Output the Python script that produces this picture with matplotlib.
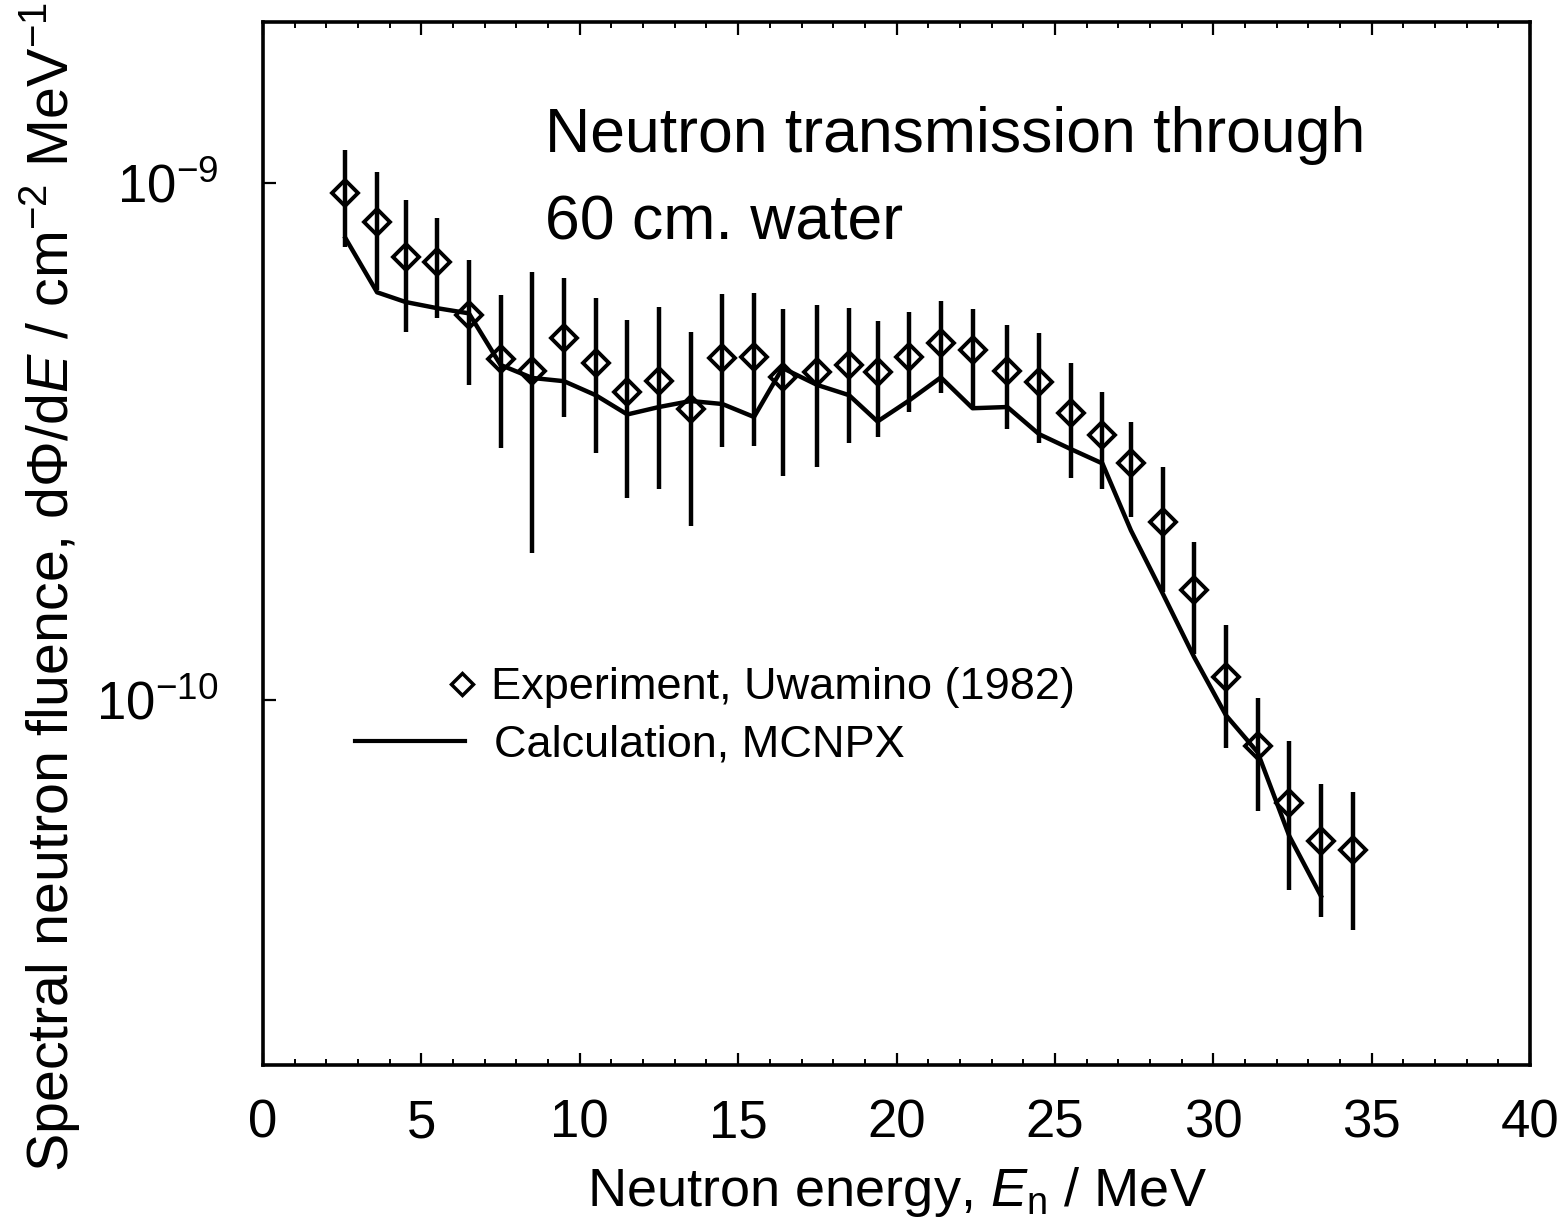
import matplotlib
matplotlib.use("Agg")
import matplotlib.pyplot as plt
from matplotlib.ticker import MultipleLocator, FixedLocator, NullLocator
import numpy as np

plt.rcParams['font.family'] = ['Liberation Sans', 'DejaVu Sans']
plt.rcParams['mathtext.fontset'] = 'custom'
plt.rcParams['mathtext.rm'] = 'Liberation Sans'
plt.rcParams['mathtext.it'] = 'Liberation Sans:italic'
plt.rcParams['mathtext.bf'] = 'Liberation Sans:bold'

# neutron energy (MeV) of the measured bins
energy = [2.6, 3.6, 4.5, 5.5, 6.5, 7.5, 8.5, 9.5, 10.5, 11.5, 12.5,
          13.5, 14.5, 15.5, 16.4, 17.5, 18.5, 19.4, 20.4, 21.4, 22.4,
          23.5, 24.5, 25.5, 26.5, 27.4, 28.4, 29.4, 30.4, 31.4, 32.4,
          33.4, 34.4]

# experiment, Uwamino (1982)
exp_flux = [9.56e-10, 8.41e-10, 7.19e-10, 7.03e-10, 5.56e-10, 4.57e-10,
            4.33e-10, 5.01e-10, 4.49e-10, 3.94e-10, 4.14e-10, 3.65e-10,
            4.59e-10, 4.61e-10, 4.21e-10, 4.31e-10, 4.45e-10, 4.31e-10,
            4.61e-10, 4.90e-10, 4.75e-10, 4.33e-10, 4.12e-10, 3.59e-10,
            3.26e-10, 2.87e-10, 2.21e-10, 1.63e-10, 1.11e-10, 8.15e-11,
            6.32e-11, 5.34e-11, 5.13e-11]

exp_upper = [1.16e-9, 1.05e-9, 9.27e-10, 8.56e-10, 7.10e-10, 6.07e-10,
             6.73e-10, 6.55e-10, 5.99e-10, 5.43e-10, 5.76e-10, 5.15e-10,
             6.10e-10, 6.13e-10, 5.71e-10, 5.81e-10, 5.73e-10, 5.41e-10,
             5.63e-10, 5.91e-10, 5.71e-10, 5.31e-10, 5.13e-10, 4.49e-10,
             3.94e-10, 3.45e-10, 2.82e-10, 2.02e-10, 1.40e-10, 1.01e-10,
             8.33e-11, 6.88e-11, 6.64e-11]

exp_lower = [7.52e-10, 6.21e-10, 5.15e-10, 5.48e-10, 4.07e-10, 3.07e-10,
             1.93e-10, 3.53e-10, 3.00e-10, 2.46e-10, 2.56e-10, 2.17e-10,
             3.09e-10, 3.10e-10, 2.71e-10, 2.82e-10, 3.14e-10, 3.23e-10,
             3.61e-10, 3.93e-10, 3.67e-10, 3.34e-10, 3.14e-10, 2.69e-10,
             2.56e-10, 2.26e-10, 1.62e-10, 1.23e-10, 8.08e-11, 6.10e-11,
             4.29e-11, 3.81e-11, 3.59e-11]

# calculation, MCNPX (stops one bin earlier)
calc_energy = energy[:32]
calc_flux = [7.83e-10, 6.15e-10, 5.89e-10, 5.73e-10, 5.60e-10, 4.45e-10,
             4.20e-10, 4.14e-10, 3.89e-10, 3.57e-10, 3.69e-10, 3.79e-10,
             3.74e-10, 3.53e-10, 4.39e-10, 4.07e-10, 3.89e-10, 3.46e-10,
             3.80e-10, 4.21e-10, 3.67e-10, 3.69e-10, 3.27e-10, 3.06e-10,
             2.87e-10, 2.13e-10, 1.61e-10, 1.21e-10, 9.35e-11, 7.93e-11,
             5.46e-11, 4.18e-11]

y_ticks = [1e-10, 1e-9]


def plot_transmission():
    fig = plt.figure(figsize=(15.63, 12.21), dpi=100)
    ax = fig.add_axes([0.1683, 0.1278, 0.8106, 0.8542])

    flux = np.array(exp_flux)
    yerr = [flux - np.array(exp_lower), np.array(exp_upper) - flux]

    ax.errorbar(energy, exp_flux, yerr=yerr,
                fmt='D', ms=13.5, mfc='none', mec='black', mew=2.8,
                ecolor='black', elinewidth=3.2, capsize=0,
                color='black', zorder=3)
    ax.plot(calc_energy, calc_flux, color='black', lw=3.2, zorder=2)

    ax.set_yscale('log')
    ax.set(xlim=[0, 40], ylim=[1.97e-11, 2.05e-9])

    ax.xaxis.set_major_locator(MultipleLocator(5))
    ax.xaxis.set_minor_locator(MultipleLocator(1))
    ax.yaxis.set_major_locator(FixedLocator(y_ticks))
    ax.yaxis.set_minor_locator(NullLocator())

    ax.tick_params(axis='x', which='major', direction='in', top=True,
                   length=9, width=1.6, labelsize=38, pad=24)
    ax.tick_params(axis='x', which='minor', direction='in', top=True,
                   length=4.5, width=1.4)
    ax.tick_params(axis='y', which='major', direction='in', right=False,
                   length=9, width=1.6, labelsize=38, pad=32)

    for sp in ax.spines.values():
        sp.set_linewidth(2.6)

    ax.set_xlabel(r'Neutron energy, $E_\mathrm{n}$ / MeV', fontsize=39,
                  labelpad=12)
    ax.set_ylabel(r'Spectral neutron fluence, dΦ/d$E$ / cm$^{-2}$ MeV$^{-1}$',
                  fontsize=41.3)
    ax.yaxis.set_label_coords(-0.142, 0.458)

    ax.text(0.2226, 0.8754, 'Neutron transmission through',
            transform=ax.transAxes, fontsize=45, va='baseline')
    ax.text(0.2226, 0.791, '60 cm. water',
            transform=ax.transAxes, fontsize=45, va='baseline')

    h_exp = plt.Line2D([], [], ls='none', marker='D', ms=11, mfc='none',
                       mec='black', mew=2.5)
    h_calc = plt.Line2D([], [], color='black', lw=3.0)

    leg1 = ax.legend([h_exp], ['Experiment, Uwamino (1982)'],
                     loc='center left', bbox_to_anchor=(0.148, 0.3615),
                     frameon=False, fontsize=32.5, handlelength=0.5,
                     handletextpad=0.39, borderpad=0, borderaxespad=0)
    ax.add_artist(leg1)
    ax.legend([h_calc], ['Calculation, MCNPX'],
              loc='center left', bbox_to_anchor=(0.0726, 0.3068),
              frameon=False, fontsize=32.5, handlelength=2.43,
              handletextpad=0.64, borderpad=0, borderaxespad=0)

    return fig


fig = plot_transmission()
fig.savefig('out.png', dpi=100)
